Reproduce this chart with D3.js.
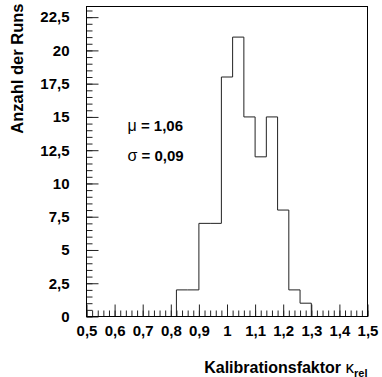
<!DOCTYPE html>
<html>
<head>
<meta charset="utf-8">
<script src="https://cdn.jsdelivr.net/npm/d3@7"></script>
<style>
  body { margin: 0; background: #fff; }
  text { font-family: "Liberation Sans", Arial, sans-serif; font-weight: bold; fill: #000; }
</style>
</head>
<body>
<script>
// bins of the histogram (lower / upper edge) and counts
var binLow   = [0.82, 0.86, 0.90, 0.94, 0.98, 1.02, 1.06, 1.10, 1.14, 1.18, 1.22, 1.26];
var binHigh  = [0.86, 0.90, 0.94, 0.98, 1.02, 1.06, 1.10, 1.14, 1.18, 1.22, 1.26, 1.30];
var counts   = [2, 2, 7, 7, 18, 21, 15, 12, 15, 8, 2, 1];

var xTicks = [0.5, 0.6, 0.7, 0.8, 0.9, 1, 1.1, 1.2, 1.3, 1.4, 1.5];
var yTicks = [0, 2.5, 5, 7.5, 10, 12.5, 15, 17.5, 20, 22.5];

var statSymbols = ["\u03bc", "\u03c3"];
var statValues  = ["1,06", "0,09"];

var margin = {top: 6.5, right: 14.5, bottom: 60.5, left: 86.5},
    width = 382 - margin.left - margin.right,
    height = 377 - margin.top - margin.bottom;

var x = d3.scaleLinear().domain([0.5, 1.5]).range([0, width]);
var y = d3.scaleLinear().domain([0, 23.3]).range([height, 0]);

var de = d3.formatLocale({decimal: ",", thousands: ".", grouping: [3], currency: ["", ""]});
var fmt = function(d) { return de.format("~g")(d); };

var svg = d3.select("body").append("svg")
    .attr("width", 382)
    .attr("height", 377)
  .append("g")
    .attr("transform", "translate(" + margin.left + "," + margin.top + ")");

// minor ticks
svg.append("g")
    .attr("transform", "translate(0," + height + ")")
    .call(d3.axisBottom(x).tickValues(d3.range(0.5, 1.501, 0.02)).tickSize(-6).tickFormat(""))
    .call(function(g) { g.select(".domain").remove(); });
svg.append("g")
    .call(d3.axisLeft(y).tickValues(d3.range(0, 23.01, 0.5)).tickSize(-6).tickFormat(""))
    .call(function(g) { g.select(".domain").remove(); });

// major ticks + labels
var xAxis = svg.append("g")
    .attr("transform", "translate(0," + height + ")")
    .call(d3.axisBottom(x).tickValues(xTicks).tickSize(-12).tickPadding(9).tickFormat(fmt));
xAxis.select(".domain").remove();
xAxis.selectAll("text").style("font-size", "15px").style("font-family", null);

var yAxis = svg.append("g")
    .call(d3.axisLeft(y).tickValues(yTicks).tickSize(-12).tickPadding(17).tickFormat(fmt));
yAxis.select(".domain").remove();
yAxis.selectAll("text").style("font-size", "15px").style("font-family", null);

svg.selectAll(".tick line").attr("stroke", "#222");

// histogram outline
var pts = [[0.5, 0]];
binLow.forEach(function(b, i) {
  pts.push([b, counts[i]]);
});
pts.push([binHigh[binHigh.length - 1], 0]);
pts.push([1.5, 0]);

svg.append("path")
    .attr("d", d3.line().curve(d3.curveStepAfter)
        .x(function(d) { return x(d[0]); })
        .y(function(d) { return y(d[1]); })(pts))
    .attr("fill", "none")
    .attr("stroke", "#222")
    .attr("stroke-width", 1);

// frame
svg.append("rect")
    .attr("width", width)
    .attr("height", height)
    .attr("fill", "none")
    .attr("stroke", "#000");

// stat text
var st = svg.selectAll(".stat")
  .data(statSymbols)
  .enter().append("text")
    .attr("class", "stat")
    .attr("x", 41)
    .attr("y", function(d, i) { return 124 + i * 30; })
    .style("font-size", "15px");
st.append("tspan").style("font-weight", "normal").style("font-size", "16px").text(function(d) { return d; });
st.append("tspan").text(function(d, i) { return " = " + statValues[i]; });

// axis titles
var xt = svg.append("text")
    .attr("x", width)
    .attr("y", height + 56)
    .attr("text-anchor", "end")
    .style("font-size", "16px");
xt.append("tspan").text("Kalibrationsfaktor ");
xt.append("tspan").style("font-weight", "normal").style("font-size", "17px").text("\u03ba");
xt.append("tspan").attr("dy", 4).style("font-size", "11px").text("rel");

svg.append("text")
    .attr("transform", "translate(-63.5,-3) rotate(-90)")
    .attr("text-anchor", "end")
    .style("font-size", "16.5px")
    .text("Anzahl der Runs");
</script>
</body>
</html>
